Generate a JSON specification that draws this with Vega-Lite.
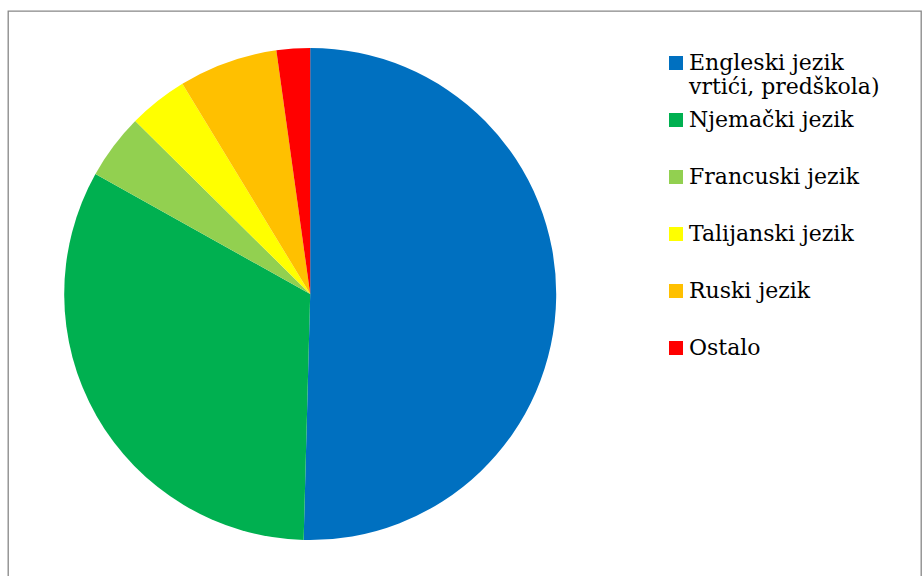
{
  "$schema": "https://vega.github.io/schema/vega-lite/v6.json",
  "width": 922,
  "height": 576,
  "autosize": {"type": "fit", "contains": "padding"},
  "padding": {"left": 8, "top": 11, "right": 1, "bottom": -1},
  "background": "white",
  "config": {
    "view": {"stroke": "#878787", "strokeWidth": 1.3},
    "font": "DejaVu Serif"
  },
  "data": {
    "values": [
      {"jezik": "Engleski jezik vrtići, predškola)", "udio": 50.45},
      {"jezik": "Njemački jezik", "udio": 32.7},
      {"jezik": "Francuski jezik", "udio": 4.3},
      {"jezik": "Talijanski jezik", "udio": 3.9},
      {"jezik": "Ruski jezik", "udio": 6.5},
      {"jezik": "Ostalo", "udio": 2.2}
    ]
  },
  "transform": [
    {"window": [{"op": "row_number", "as": "redoslijed"}]}
  ],
  "mark": {"type": "arc", "outerRadius": 246, "stroke": null},
  "encoding": {
    "theta": {"field": "udio", "type": "quantitative", "stack": true},
    "order": {"field": "redoslijed", "type": "quantitative", "sort": "ascending"},
    "x": {"datum": 0.331, "type": "quantitative", "scale": {"domain": [0, 1]}, "axis": null},
    "color": {
      "field": "jezik",
      "type": "nominal",
      "sort": ["Engleski jezik vrtići, predškola)", "Njemački jezik", "Francuski jezik", "Talijanski jezik", "Ruski jezik", "Ostalo"],
      "scale": {
        "domain": ["Engleski jezik vrtići, predškola)", "Njemački jezik", "Francuski jezik", "Talijanski jezik", "Ruski jezik", "Ostalo"],
        "range": ["#0070C0", "#00B050", "#92D050", "#FFFF00", "#FFC000", "#FF0000"]
      },
      "legend": {
        "title": null,
        "orient": "none",
        "legendX": 657,
        "legendY": 41,
        "padding": 0,
        "gridAlign": "all",
        "rowPadding": 11,
        "symbolType": "square",
        "symbolSize": 196,
        "symbolStrokeWidth": 0,
        "symbolOpacity": 1,
        "labelFont": "DejaVu Serif",
        "labelFontSize": 22,
        "labelColor": "#000000",
        "labelOffset": 2,
        "labelLimit": 400,
        "labelExpr": "datum.label == 'Engleski jezik vrtići, predškola)' ? ['Engleski jezik', 'vrtići, predškola)'] : datum.label"
      }
    }
  }
}
